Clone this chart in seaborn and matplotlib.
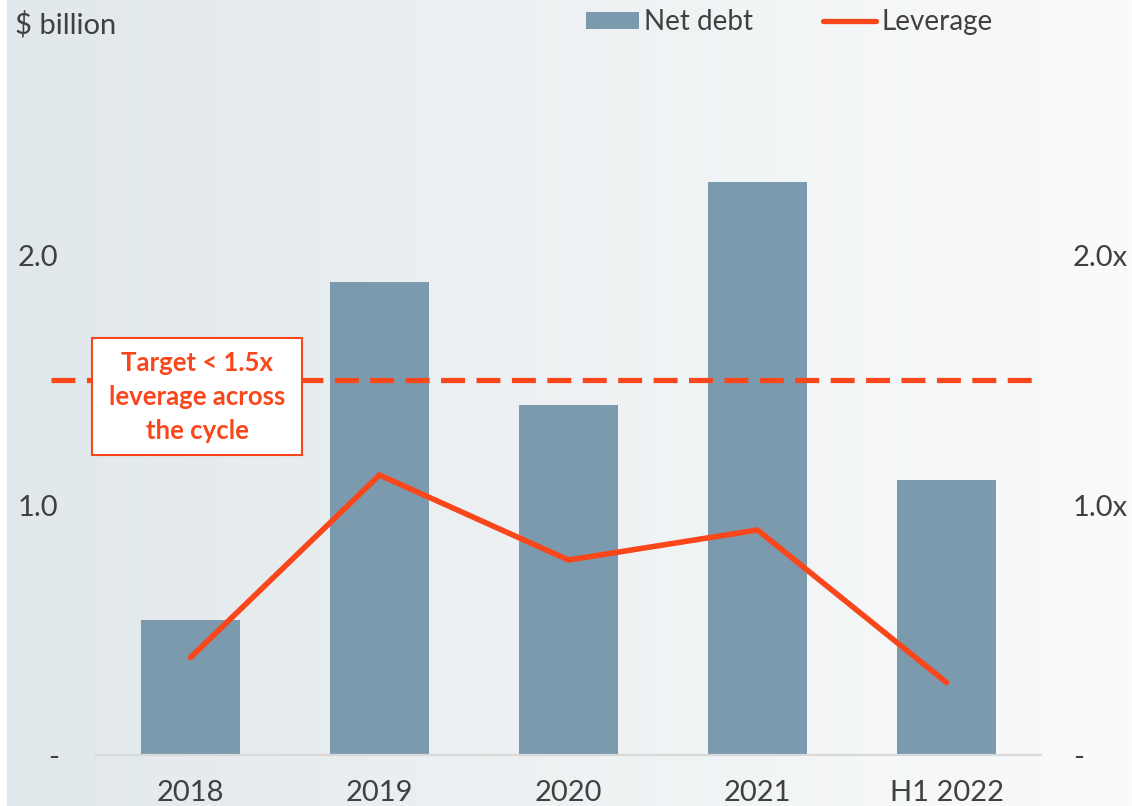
import numpy as np
import pandas as pd
import matplotlib
matplotlib.use("Agg")
import matplotlib.pyplot as plt
import seaborn as sns
from matplotlib.patches import Patch, Rectangle
from matplotlib.lines import Line2D
from matplotlib.colors import LinearSegmentedColormap

# ---- data ----
periods = ["2018", "2019", "2020", "2021", "H1 2022"]
net_debt = [0.54, 1.89, 1.40, 2.29, 1.10]      # $ billion
leverage = [0.39, 1.12, 0.78, 0.90, 0.29]      # x
target_leverage = 1.5
tick_values = [0.0, 1.0, 2.0]
left_tick_labels = ["-", "1.0", "2.0"]
right_tick_labels = ["-", "1.0x", "2.0x"]
target_text = "Target < 1.5x\nleverage across\nthe cycle"

BAR = "#7b9aae"
ORANGE = "#f9461a"
TEXT = "#404040"
W, H = 1132, 806

sns.set_theme(style="white")
plt.rcParams['font.family'] = ['Lato', 'DejaVu Sans']

fig = plt.figure(figsize=(W / 100, H / 100), dpi=100, facecolor="white")

# background gradient
bg = fig.add_axes([7 / W, 0, 1 - 7 / W, 1], zorder=-10)
grad = np.linspace(0, 1, 256)[None, :]
cmap = LinearSegmentedColormap.from_list("bg", ["#e1e8eb", "#fafbfb"])
bg.imshow(grad, aspect="auto", cmap=cmap, extent=[0, 1, 0, 1])
bg.axis("off")

ax = fig.add_axes([96 / W, 51 / H, 945 / W, 725 / H])
ax.set_facecolor("none")

df = pd.DataFrame({"period": periods, "net_debt": net_debt, "leverage": leverage})

sns.barplot(data=df, x="period", y="net_debt", color=BAR, saturation=1,
            width=0.52, ax=ax, zorder=2, linewidth=0, edgecolor="none")
sns.pointplot(data=df, x="period", y="leverage", color=ORANGE, markers="",
              errorbar=None, ax=ax, linewidth=4, solid_capstyle="round",
              zorder=4)

ax.axhline(target_leverage, xmin=-0.048, xmax=1.0, color=ORANGE, lw=3.75,
           dashes=(4.6, 2.2), clip_on=False, zorder=3)

ax.set_xlim(-0.5, 4.5)
ax.set_ylim(0, 2.9)
ax.set_xlabel("")
ax.set_ylabel("")
ax.set_yticks(tick_values, left_tick_labels)
for s in ["top", "right", "left"]:
    ax.spines[s].set_visible(False)
ax.spines["bottom"].set_color("#d9d9d9")
ax.spines["bottom"].set_linewidth(1.6)
ax.tick_params(axis="x", length=0, pad=18, labelsize=21, labelcolor=TEXT)
ax.tick_params(axis="y", length=0, pad=27, labelsize=21, labelcolor=TEXT)

ax2 = ax.twinx()
ax2.set_ylim(ax.get_ylim())
ax2.set_yticks(tick_values, right_tick_labels)
for s in ax2.spines.values():
    s.set_visible(False)
ax2.tick_params(axis="y", length=0, pad=23, labelsize=21, labelcolor=TEXT)
for lab in ax2.get_yticklabels():
    lab.set_horizontalalignment("left")

# annotation box
fig.add_artist(Rectangle((92 / W, 1 - 455 / H), 210 / W, 117 / H,
                         transform=fig.transFigure, facecolor="white",
                         edgecolor=ORANGE, lw=1.5, zorder=5))
fig.text(197 / W, 1 - 397 / H, target_text, ha="center", va="center",
         fontsize=18.5, fontweight="bold", color=ORANGE, linespacing=1.5,
         zorder=6)

fig.text(15 / W, 1 - 25 / H, "$ billion", ha="left", va="center",
         fontsize=21, color=TEXT)

handles = [Patch(facecolor=BAR, edgecolor="none", label="Net debt"),
           Line2D([], [], color=ORANGE, lw=3.8, solid_capstyle="round",
                  label="Leverage")]
fig.legend(handles=handles, loc="center left",
           bbox_to_anchor=(586 / W, 1 - 22 / H), ncol=2, frameon=False,
           fontsize=20, labelcolor=TEXT, handlelength=1.9, handleheight=0.58,
           handletextpad=0.2, columnspacing=2.5, borderpad=0,
           borderaxespad=0)

fig.savefig("out.png", dpi=100, facecolor="white")
